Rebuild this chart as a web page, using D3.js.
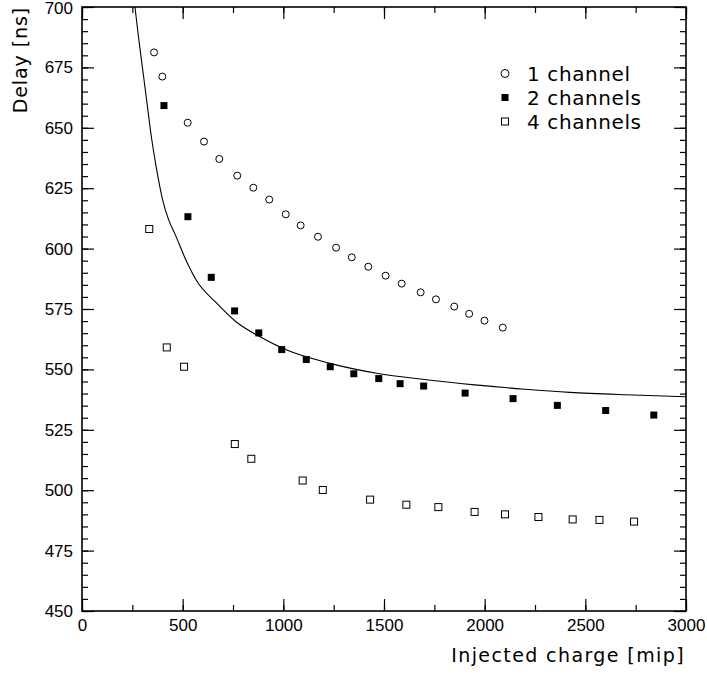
<!DOCTYPE html>
<html><head><meta charset="utf-8">
<script src="https://cdn.jsdelivr.net/npm/d3@7"></script>
<style>body{margin:0;background:#fff}svg{display:block}</style>
</head><body><svg id="c" width="707" height="675"></svg>
<script>
// ---- data ----
const oneChannelCharge = [358,399,525,606,682,771,851,930,1012,1086,1172,1262,1340,1422,1508,1588,1682,1758,1849,1923,1999,2090];
const oneChannelDelay  = [681.2,671.2,652.1,644.3,637.1,630.2,625.2,620.3,614.2,609.6,604.9,600.4,596.4,592.5,588.8,585.5,581.9,579.0,576.0,573.0,570.2,567.3];
const twoChannelCharge = [407,526,642,758,878,992,1114,1233,1350,1474,1580,1697,1903,2141,2361,2601,2840];
const twoChannelDelay  = [659.2,613.2,588.1,574.2,565.1,558.2,554.1,551.1,548.2,546.2,544.1,543.1,540.2,537.9,535.1,533.0,531.1];
const fourChannelCharge = [334,421,507,759,841,1096,1196,1431,1611,1770,1950,2101,2267,2437,2570,2742];
const fourChannelDelay  = [608.1,559.1,551.1,519.1,513.0,504.0,500.1,496.1,494.0,493.0,491.0,490.0,488.9,487.9,487.7,487.0];
const fitCharge = [263,280,300,321,345,368,401,430,462,523,567,669,768,884,1017,1232,1464,1700,1950,2200,2424,2700,3000];
const fitDelay  = [700,688,675,661.5,646,634,620,612,606,594,587,577.4,569.5,563.5,558,552.5,548.4,545.8,543.6,541.8,540.5,539.5,538.7];
const xTicks = [0,500,1000,1500,2000,2500,3000];
const yTicks = [450,475,500,525,550,575,600,625,650,675,700];
const legendLabels = ["1 channel","2 channels","4 channels"];
const xTitle = "Injected charge [mip]";
const yTitle = "Delay [ns]";

// ---- layout ----
const L = 82, T = 7, W = 604, H = 604;
const svg = d3.select("#c");
const x = d3.scaleLinear().domain([0,3000]).range([L, L+W]);
const y = d3.scaleLinear().domain([450,700]).range([T+H, T]);
const tickFont = "'Liberation Sans', Arial, sans-serif";
const titleFont = "'DejaVu Sans', sans-serif";

function styleAxis(g){
  g.select(".domain").remove();
  g.selectAll("line").attr("stroke","#000").attr("stroke-width",1.2);
  g.selectAll("text").attr("font-family",tickFont).attr("font-size",17).attr("fill","#000");
}
const xMinor = d3.range(0,3001,250);
const yMinor = d3.range(450,701,5);

// bottom
svg.append("g").attr("transform",`translate(0,${T+H})`)
  .call(d3.axisBottom(x).tickValues(xMinor).tickSize(-6).tickFormat("")).call(styleAxis);
svg.append("g").attr("transform",`translate(0,${T+H})`)
  .call(d3.axisBottom(x).tickValues(xTicks).tickSize(-12).tickPadding(8).tickFormat(d3.format("d"))).call(styleAxis);
// top
svg.append("g").attr("transform",`translate(0,${T})`)
  .call(d3.axisTop(x).tickValues(xMinor).tickSize(-6).tickFormat("")).call(styleAxis);
svg.append("g").attr("transform",`translate(0,${T})`)
  .call(d3.axisTop(x).tickValues(xTicks).tickSize(-12).tickFormat("")).call(styleAxis);
// left
svg.append("g").attr("transform",`translate(${L},0)`)
  .call(d3.axisLeft(y).tickValues(yMinor).tickSize(-6).tickFormat("")).call(styleAxis);
const yAx = svg.append("g").attr("transform",`translate(${L},0)`)
  .call(d3.axisLeft(y).tickValues(yTicks).tickSize(-12).tickPadding(9).tickFormat(d3.format("d"))).call(styleAxis);
yAx.selectAll(".tick").filter(d=>d===700).select("text").attr("dy","0.36em");
// right
svg.append("g").attr("transform",`translate(${L+W},0)`)
  .call(d3.axisRight(y).tickValues(yMinor).tickSize(-6).tickFormat("")).call(styleAxis);
svg.append("g").attr("transform",`translate(${L+W},0)`)
  .call(d3.axisRight(y).tickValues(yTicks).tickSize(-12).tickFormat("")).call(styleAxis);

// frame
svg.append("rect").attr("x",L).attr("y",T).attr("width",W).attr("height",H)
  .attr("fill","none").attr("stroke","#000").attr("stroke-width",1.6);

// fit curve
const fit = fitCharge.map((c,i)=>[c,fitDelay[i]]);
svg.append("path").datum(fit)
  .attr("d", d3.line().x(d=>x(d[0])).y(d=>y(d[1])).curve(d3.curveMonotoneX))
  .attr("fill","none").attr("stroke","#000").attr("stroke-width",1.1);

// markers
const s1 = oneChannelCharge.map((c,i)=>[c,oneChannelDelay[i]]);
const s2 = twoChannelCharge.map((c,i)=>[c,twoChannelDelay[i]]);
const s4 = fourChannelCharge.map((c,i)=>[c,fourChannelDelay[i]]);
svg.append("g").selectAll("circle").data(s1).join("circle")
  .attr("cx",d=>x(d[0])).attr("cy",d=>y(d[1])).attr("r",3.5)
  .attr("fill","#fff").attr("stroke","#000").attr("stroke-width",1);
svg.append("g").selectAll("rect").data(s2).join("rect")
  .attr("x",d=>x(d[0])-3.5).attr("y",d=>y(d[1])-3.5).attr("width",7).attr("height",7)
  .attr("fill","#000");
svg.append("g").selectAll("rect").data(s4).join("rect")
  .attr("x",d=>x(d[0])-3.5).attr("y",d=>y(d[1])-3.5).attr("width",7).attr("height",7)
  .attr("fill","#fff").attr("stroke","#000").attr("stroke-width",1);

// legend
const lg = svg.append("g");
const lx = 505, ly0 = 73.5, dy = 24;
lg.append("circle").attr("cx",lx).attr("cy",ly0).attr("r",4).attr("fill","#fff").attr("stroke","#000");
lg.append("rect").attr("x",lx-3.5).attr("y",ly0+dy-3.5).attr("width",7).attr("height",7).attr("fill","#000");
lg.append("rect").attr("x",lx-3.5).attr("y",ly0+2*dy-3.5).attr("width",7).attr("height",7).attr("fill","#fff").attr("stroke","#000");
legendLabels.forEach((t,i)=>{
  lg.append("text").attr("x",527).attr("y",80.5+i*dy).text(t)
    .attr("font-family",titleFont).attr("font-size",20).attr("letter-spacing","0.6px").attr("fill","#000");
});

// titles
svg.append("text").attr("x",685).attr("y",662).attr("text-anchor","end").text(xTitle)
  .attr("font-family",titleFont).attr("font-size",19).attr("letter-spacing","1.4px").attr("fill","#000");
svg.append("text").attr("transform","translate(27,7) rotate(-90)").attr("text-anchor","end").text(yTitle)
  .attr("font-family",titleFont).attr("font-size",19).attr("letter-spacing","0.9px").attr("fill","#000");
</script></body></html>
